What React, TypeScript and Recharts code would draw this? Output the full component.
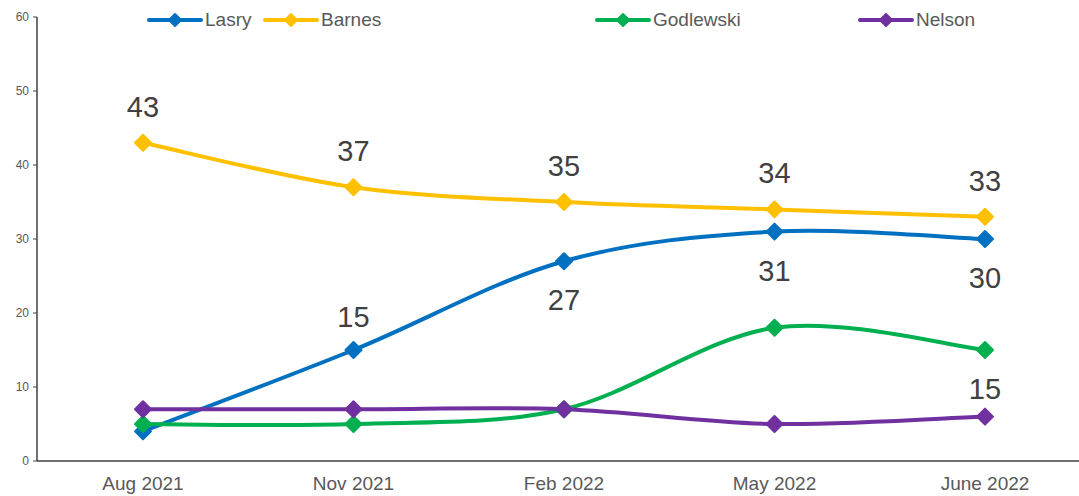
import { LabelList, Line, LineChart, XAxis, YAxis } from "recharts";

const periods = ["Aug 2021", "Nov 2021", "Feb 2022", "May 2022", "June 2022"];
const lasry = [4, 15, 27, 31, 30];
const barnes = [43, 37, 35, 34, 33];
const godlewski = [5, 5, 7, 18, 15];
const nelson = [7, 7, 7, 5, 6];
const yTicks = [0, 10, 20, 30, 40, 50, 60];

const data = periods.map((period, i) => ({
  period,
  Lasry: lasry[i],
  Barnes: barnes[i],
  Godlewski: godlewski[i],
  Nelson: nelson[i],
}));

const SERIES = [
  { key: "Lasry", color: "#0070C0", legendX: 147 },
  { key: "Barnes", color: "#FFC000", legendX: 263 },
  { key: "Godlewski", color: "#00B050", legendX: 595 },
  { key: "Nelson", color: "#7030A0", legendX: 858 },
];

// label offset from the point in px (negative = above), null = no label
const LABEL_OFFSETS: Record<string, (number | null)[]> = {
  Lasry: [null, -33, 39, 39, 39],
  Barnes: [-36, -36, -36, -36, -36],
  Godlewski: [null, null, null, null, 39],
  Nelson: [null, null, null, null, null],
};

const FONT = "Arial, 'Liberation Sans', sans-serif";

/** Excel-like smoothed curve (Catmull-Rom) */
function smoothCurve(context: any) {
  let pts: [number, number][] = [];
  return {
    areaStart() {},
    areaEnd() {},
    lineStart() {
      pts = [];
    },
    point(x: number, y: number) {
      pts.push([+x, +y]);
    },
    lineEnd() {
      if (!pts.length) return;
      context.moveTo(pts[0][0], pts[0][1]);
      for (let i = 0; i < pts.length - 1; i++) {
        const p0 = pts[i - 1] || pts[i];
        const p1 = pts[i];
        const p2 = pts[i + 1];
        const p3 = pts[i + 2] || p2;
        const c1x = p1[0] + (p2[0] - p0[0]) / 6;
        const c1y = p1[1] + (p2[1] - p0[1]) / 6;
        const c2x = p2[0] - (p3[0] - p1[0]) / 6;
        const c2y = p2[1] - (p3[1] - p1[1]) / 6;
        context.bezierCurveTo(c1x, c1y, c2x, c2y, p2[0], p2[1]);
      }
    },
  };
}

function Diamond({ cx, cy, color, r = 8 }: { cx: number; cy: number; color: string; r?: number }) {
  if (cx == null || cy == null) return null;
  return (
    <path
      d={`M${cx},${cy - r}L${cx + r},${cy}L${cx},${cy + r}L${cx - r},${cy}Z`}
      fill={color}
      stroke={color}
      strokeWidth={2}
      strokeLinejoin="round"
    />
  );
}

function makeLabel(seriesKey: string) {
  return (props: any) => {
    const { x, y, index, value } = props;
    const offset = LABEL_OFFSETS[seriesKey][index];
    if (offset == null) return null;
    return (
      <text
        x={x}
        y={y + offset}
        textAnchor="middle"
        dominantBaseline="central"
        fontSize={29}
        fill="#404040"
        fontFamily={FONT}
      >
        {value}
      </text>
    );
  };
}

function ChartLegend() {
  return (
    <div style={{ position: "absolute", left: 0, top: 0, width: 1079, height: 40, pointerEvents: "none" }}>
      {SERIES.map((s) => (
        <div
          key={s.key}
          style={{
            position: "absolute",
            left: s.legendX,
            top: 9,
            display: "flex",
            alignItems: "center",
            fontFamily: FONT,
            fontSize: 19,
            color: "#595959",
          }}
        >
          <svg width={56} height={20} style={{ marginRight: 2 }}>
            <line x1={2} y1={10} x2={54} y2={10} stroke={s.color} strokeWidth={4} strokeLinecap="round" />
            <Diamond cx={28} cy={10} color={s.color} r={6} />
          </svg>
          <span>{s.key}</span>
        </div>
      ))}
    </div>
  );
}

export default function App() {
  return (
    <div style={{ position: "absolute", left: 0, top: 0, width: 1079, height: 496, background: "#fff" }}>
      <LineChart
        width={1079}
        height={496}
        data={data}
        margin={{ top: 17, right: 0, bottom: 5, left: 0 }}
      >
        <XAxis
          dataKey="period"
          scale="point"
          height={30}
          padding={{ left: 106, right: 94 }}
          tickLine={false}
          tickSize={0}
          tickMargin={16}
          axisLine={{ stroke: "#404040", strokeWidth: 1.5 }}
          tick={{ fontSize: 19, fill: "#595959", fontFamily: FONT }}
          interval={0}
        />
        <YAxis
          width={37}
          domain={[0, 60]}
          ticks={yTicks}
          interval={0}
          tickSize={4}
          tickMargin={4}
          axisLine={{ stroke: "#404040", strokeWidth: 1.5 }}
          tickLine={{ stroke: "#404040" }}
          tick={{ fontSize: 12, fill: "#595959", fontFamily: FONT }}
        />
        {SERIES.map((s) => (
          <Line
            key={s.key}
            dataKey={s.key}
            type={smoothCurve as any}
            stroke={s.color}
            strokeWidth={4}
            isAnimationActive={false}
            dot={(p: any) => <Diamond key={`${s.key}-${p.index}`} cx={p.cx} cy={p.cy} color={s.color} />}
            activeDot={false}
          >
            <LabelList dataKey={s.key} content={makeLabel(s.key)} />
          </Line>
        ))}
      </LineChart>
      <ChartLegend />
    </div>
  );
}
